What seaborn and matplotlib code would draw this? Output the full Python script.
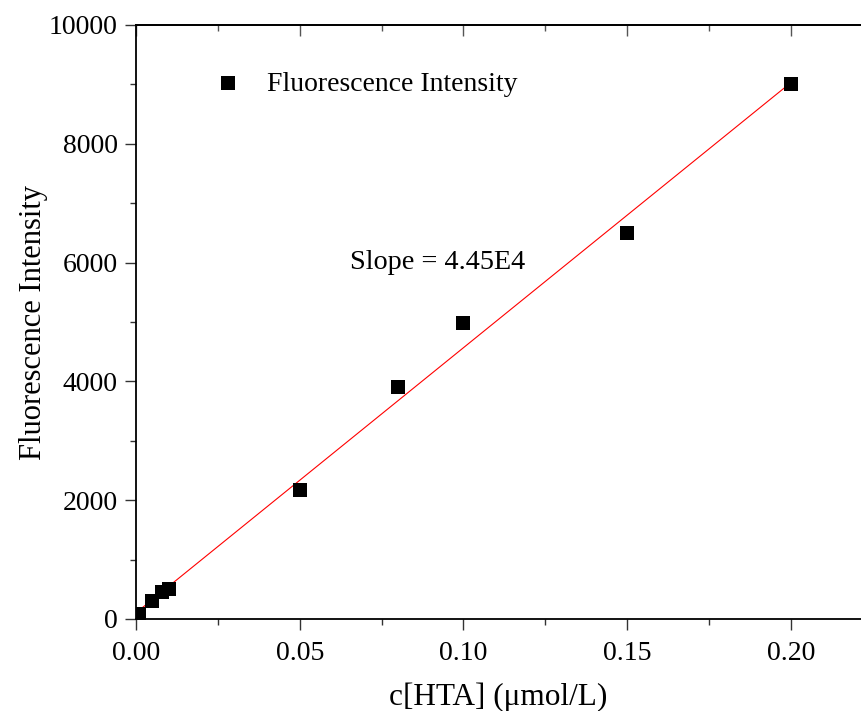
import numpy as np
import pandas as pd
import matplotlib
matplotlib.use("Agg")
import matplotlib.pyplot as plt
import seaborn as sns
from matplotlib.ticker import MultipleLocator

conc = [0.001, 0.005, 0.008, 0.010, 0.05, 0.08, 0.10, 0.15, 0.20]
intensity = [80, 310, 450, 500, 2170, 3900, 4980, 6500, 9000]
series_label = "Fluorescence Intensity"
slope_text = "Slope = 4.45E4"
x_ticks = [0.00, 0.05, 0.10, 0.15, 0.20]
y_ticks = [0, 2000, 4000, 6000, 8000, 10000]

df = pd.DataFrame({"c": conc, "I": intensity})
k, b = np.polyfit(df["c"], df["I"], 1)
fit_df = pd.DataFrame({"c": [min(conc), max(conc)]})
fit_df["I"] = k * fit_df["c"] + b

sns.set_style("ticks")
plt.rcParams["font.family"] = ["Liberation Serif", "DejaVu Serif"]
plt.rcParams["text.color"] = "black"
plt.rcParams["axes.labelcolor"] = "black"
plt.rcParams["xtick.color"] = "black"
plt.rcParams["ytick.color"] = "black"

W, H = 861, 711
fig = plt.figure(figsize=(W / 100, H / 100), dpi=100)
ax = fig.add_axes([136 / W, (H - 619) / H, (W - 136) / W, (619 - 25) / H])

sns.lineplot(data=fit_df, x="c", y="I", ax=ax, color="red", linewidth=0.8, legend=False)
sns.scatterplot(data=df, x="c", y="I", ax=ax, marker="s", s=90, color="black",
                edgecolor="black", linewidth=0, label=series_label, zorder=3)

ax.set_xlim(0, (W - 136) / 3274)
ax.set_ylim(0, 10000)
ax.set_xticks(x_ticks)
ax.set_xticklabels([f"{v:.2f}" for v in x_ticks])
ax.set_yticks(y_ticks)
ax.set_yticklabels([str(v) for v in y_ticks])
ax.xaxis.set_minor_locator(MultipleLocator(0.025))
ax.yaxis.set_minor_locator(MultipleLocator(1000))

for s in ["left", "bottom", "top"]:
    ax.spines[s].set_visible(True)
    ax.spines[s].set_linewidth(1.3)
    ax.spines[s].set_color("black")
ax.spines["right"].set_visible(False)

ax.tick_params(axis="both", which="major", length=8, width=1.0, labelsize=20,
               color="#333333", labelcolor="black", direction="out")
ax.tick_params(axis="x", which="major", pad=8)
ax.tick_params(axis="y", which="major", pad=5)
ax.tick_params(axis="both", which="minor", length=4, width=1.0, color="#333333", direction="out")

sec = ax.secondary_xaxis("top")
sec.set_xticks(x_ticks)
sec.xaxis.set_minor_locator(MultipleLocator(0.025))
sec.tick_params(axis="x", which="major", direction="in", length=8, width=1.0, color="#555555", labeltop=False)
sec.tick_params(axis="x", which="minor", direction="in", length=4, width=1.0, color="#555555")
sec.spines["top"].set_linewidth(1.3)
sec.spines["top"].set_color("black")
ax.tick_params(axis="x", which="both", top=False)

ax.set_xlabel("c[HTA] (μmol/L)", fontsize=22.5, labelpad=12, color="black")
ax.set_ylabel("Fluorescence Intensity", fontsize=22, labelpad=1, color="black")

ax.text(0.0654, 6010, slope_text, fontsize=20.3, va="center", ha="left", color="black")

leg = ax.legend(loc="center left", bbox_to_anchor=(0.1076, 0.9007), frameon=False,
                fontsize=20, handlelength=1.0, handletextpad=0.9,
                borderpad=0, borderaxespad=0, markerscale=1.0, labelcolor="black")

fig.savefig("out.png", dpi=100)
